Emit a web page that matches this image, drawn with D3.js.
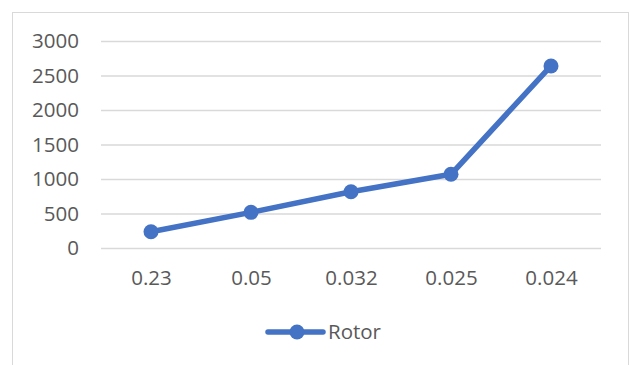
<!DOCTYPE html>
<html>
<head>
<meta charset="utf-8">
<script src="https://cdn.jsdelivr.net/npm/d3@7"></script>
<style>
  html, body { margin: 0; padding: 0; background: #fff; }
  svg { display: block; }
  text { font-family: "Open Sans", "Noto Sans", sans-serif; fill: #595959; }
</style>
</head>
<body>
<svg id="chart" width="630" height="365"></svg>
<script>
// Rotor series by category
const categories = ["0.23", "0.05", "0.032", "0.025", "0.024"];
const rotorValues = [236, 517, 816, 1068, 2638];
const yTicks = [0, 500, 1000, 1500, 2000, 2500, 3000];
const seriesName = "Rotor";

const plot = { left: 101, right: 601, top: 41, bottom: 248 };
const blue = "#4472C4";
const fontSize = 20.5;

const svg = d3.select("#chart");

// outer chart frame
svg.append("rect")
  .attr("x", 12.5).attr("y", 12.5)
  .attr("width", 616).attr("height", 360)
  .attr("fill", "#fff").attr("stroke", "#d9d9d9").attr("stroke-width", 1);

const x = d3.scalePoint().domain(categories)
  .range([plot.left, plot.right]).padding(0.5);
const y = d3.scaleLinear().domain([0, 3000])
  .range([plot.bottom, plot.top]);

// horizontal gridlines with value labels
const yAxis = d3.axisLeft(y).tickValues(yTicks)
  .tickSize(-(plot.right - plot.left)).tickPadding(22).tickFormat(d3.format("d"));
const gy = svg.append("g")
  .attr("transform", `translate(${plot.left},0)`)
  .call(yAxis);
gy.select(".domain").remove();
gy.selectAll(".tick line").attr("stroke", "#d9d9d9").attr("stroke-width", 1.3);
gy.selectAll(".tick text").attr("font-size", fontSize).attr("fill", "#595959");

// category labels
const xAxis = d3.axisBottom(x).tickSize(0).tickPadding(22);
const gx = svg.append("g")
  .attr("transform", `translate(0,${plot.bottom})`)
  .call(xAxis);
gx.select(".domain").remove();
gx.selectAll(".tick text").attr("font-size", fontSize).attr("fill", "#595959");

// series line and markers
const pts = categories.map((c, i) => ({ c, v: rotorValues[i] }));
svg.append("path")
  .datum(pts)
  .attr("fill", "none")
  .attr("stroke", blue)
  .attr("stroke-width", 5.5)
  .attr("stroke-linejoin", "round")
  .attr("d", d3.line().x(d => x(d.c)).y(d => y(d.v)));

svg.selectAll("circle.pt")
  .data(pts)
  .join("circle")
  .attr("class", "pt")
  .attr("cx", d => x(d.c))
  .attr("cy", d => y(d.v))
  .attr("r", 7.5)
  .attr("fill", blue);

// legend
const lg = svg.append("g").attr("transform", "translate(268,332)");
lg.append("line").attr("x1", 0).attr("x2", 55).attr("y1", 0).attr("y2", 0)
  .attr("stroke", blue).attr("stroke-width", 5.5).attr("stroke-linecap", "round");
lg.append("circle").attr("cx", 29).attr("cy", 0).attr("r", 7.5).attr("fill", blue);
lg.append("text").attr("x", 60).attr("y", 0).attr("dy", "0.35em")
  .attr("font-size", fontSize).text(seriesName);
</script>
</body>
</html>
